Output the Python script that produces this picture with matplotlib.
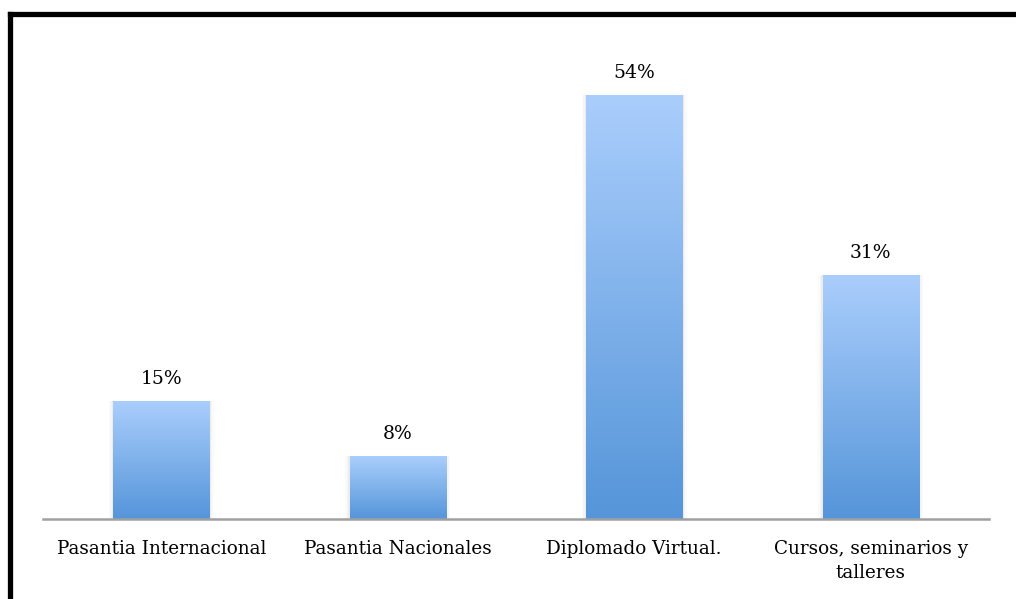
import numpy as np
import matplotlib
matplotlib.use("Agg")
import matplotlib.pyplot as plt
from matplotlib.colors import LinearSegmentedColormap
from matplotlib.lines import Line2D

categories = ["Pasantia Internacional", "Pasantia Nacionales",
              "Diplomado Virtual.", "Cursos, seminarios y\ntalleres"]
values = [15, 8, 54, 31]
labels = ["15%", "8%", "54%", "31%"]

plt.rcParams['font.family'] = ['DejaVu Serif']

fig = plt.figure(figsize=(10.16, 5.99), dpi=100)
ax = fig.add_axes([43 / 1016, 80 / 599, 946 / 1016, 471 / 599])

x = np.arange(len(categories))
bars = ax.bar(x, values, width=0.406, color='none', zorder=2)

# vertical gradient inside each bar, light on top, darker at bottom
grad = LinearSegmentedColormap.from_list('g', ['#5595d9', '#aacefc'])
for b in bars:
    x0, w, h = b.get_x(), b.get_width(), b.get_height()
    ax.imshow(np.linspace(0, 1, 256).reshape(-1, 1), cmap=grad, origin='lower',
              extent=[x0, x0 + w, 0, h], aspect='auto', zorder=2)
    # soft shadow
    for i, a in enumerate([0.035, 0.025, 0.015]):
        d = 0.006 * (i + 1)
        ax.add_patch(plt.Rectangle((x0 - d, 0), w + 2 * d, h + d * 4,
                                   color='black', alpha=a, lw=0, zorder=1))

for xi, v, lab in zip(x, values, labels):
    ax.annotate(lab, (xi, v), xytext=(0, 16), textcoords='offset points',
                ha='center', va='center', fontsize=13.5, color='black')

ax.set_xlim(-0.5, len(categories) - 0.5)
ax.set_ylim(0, 60)
ax.set_xticks(x)
ax.set_xticklabels(categories, fontsize=13.2, linespacing=1.45)
ax.tick_params(axis='x', length=0, pad=15)
ax.set_yticks([])
for s in ['top', 'right', 'left']:
    ax.spines[s].set_visible(False)
ax.spines['bottom'].set_color('#a0a0a0')
ax.spines['bottom'].set_linewidth(1.8)
ax.spines['bottom'].set_zorder(3)

# black frame around the chart (top and left edges visible in the image)
fig.add_artist(Line2D([9.5 / 1016, 1.0], [1 - 13.5 / 599, 1 - 13.5 / 599],
                      transform=fig.transFigure, color='black', lw=3.8,
                      solid_capstyle='projecting'))
fig.add_artist(Line2D([9.5 / 1016, 9.5 / 1016], [0, 1 - 13.5 / 599],
                      transform=fig.transFigure, color='black', lw=3.8,
                      solid_capstyle='projecting'))

fig.savefig('out.png', dpi=100)
